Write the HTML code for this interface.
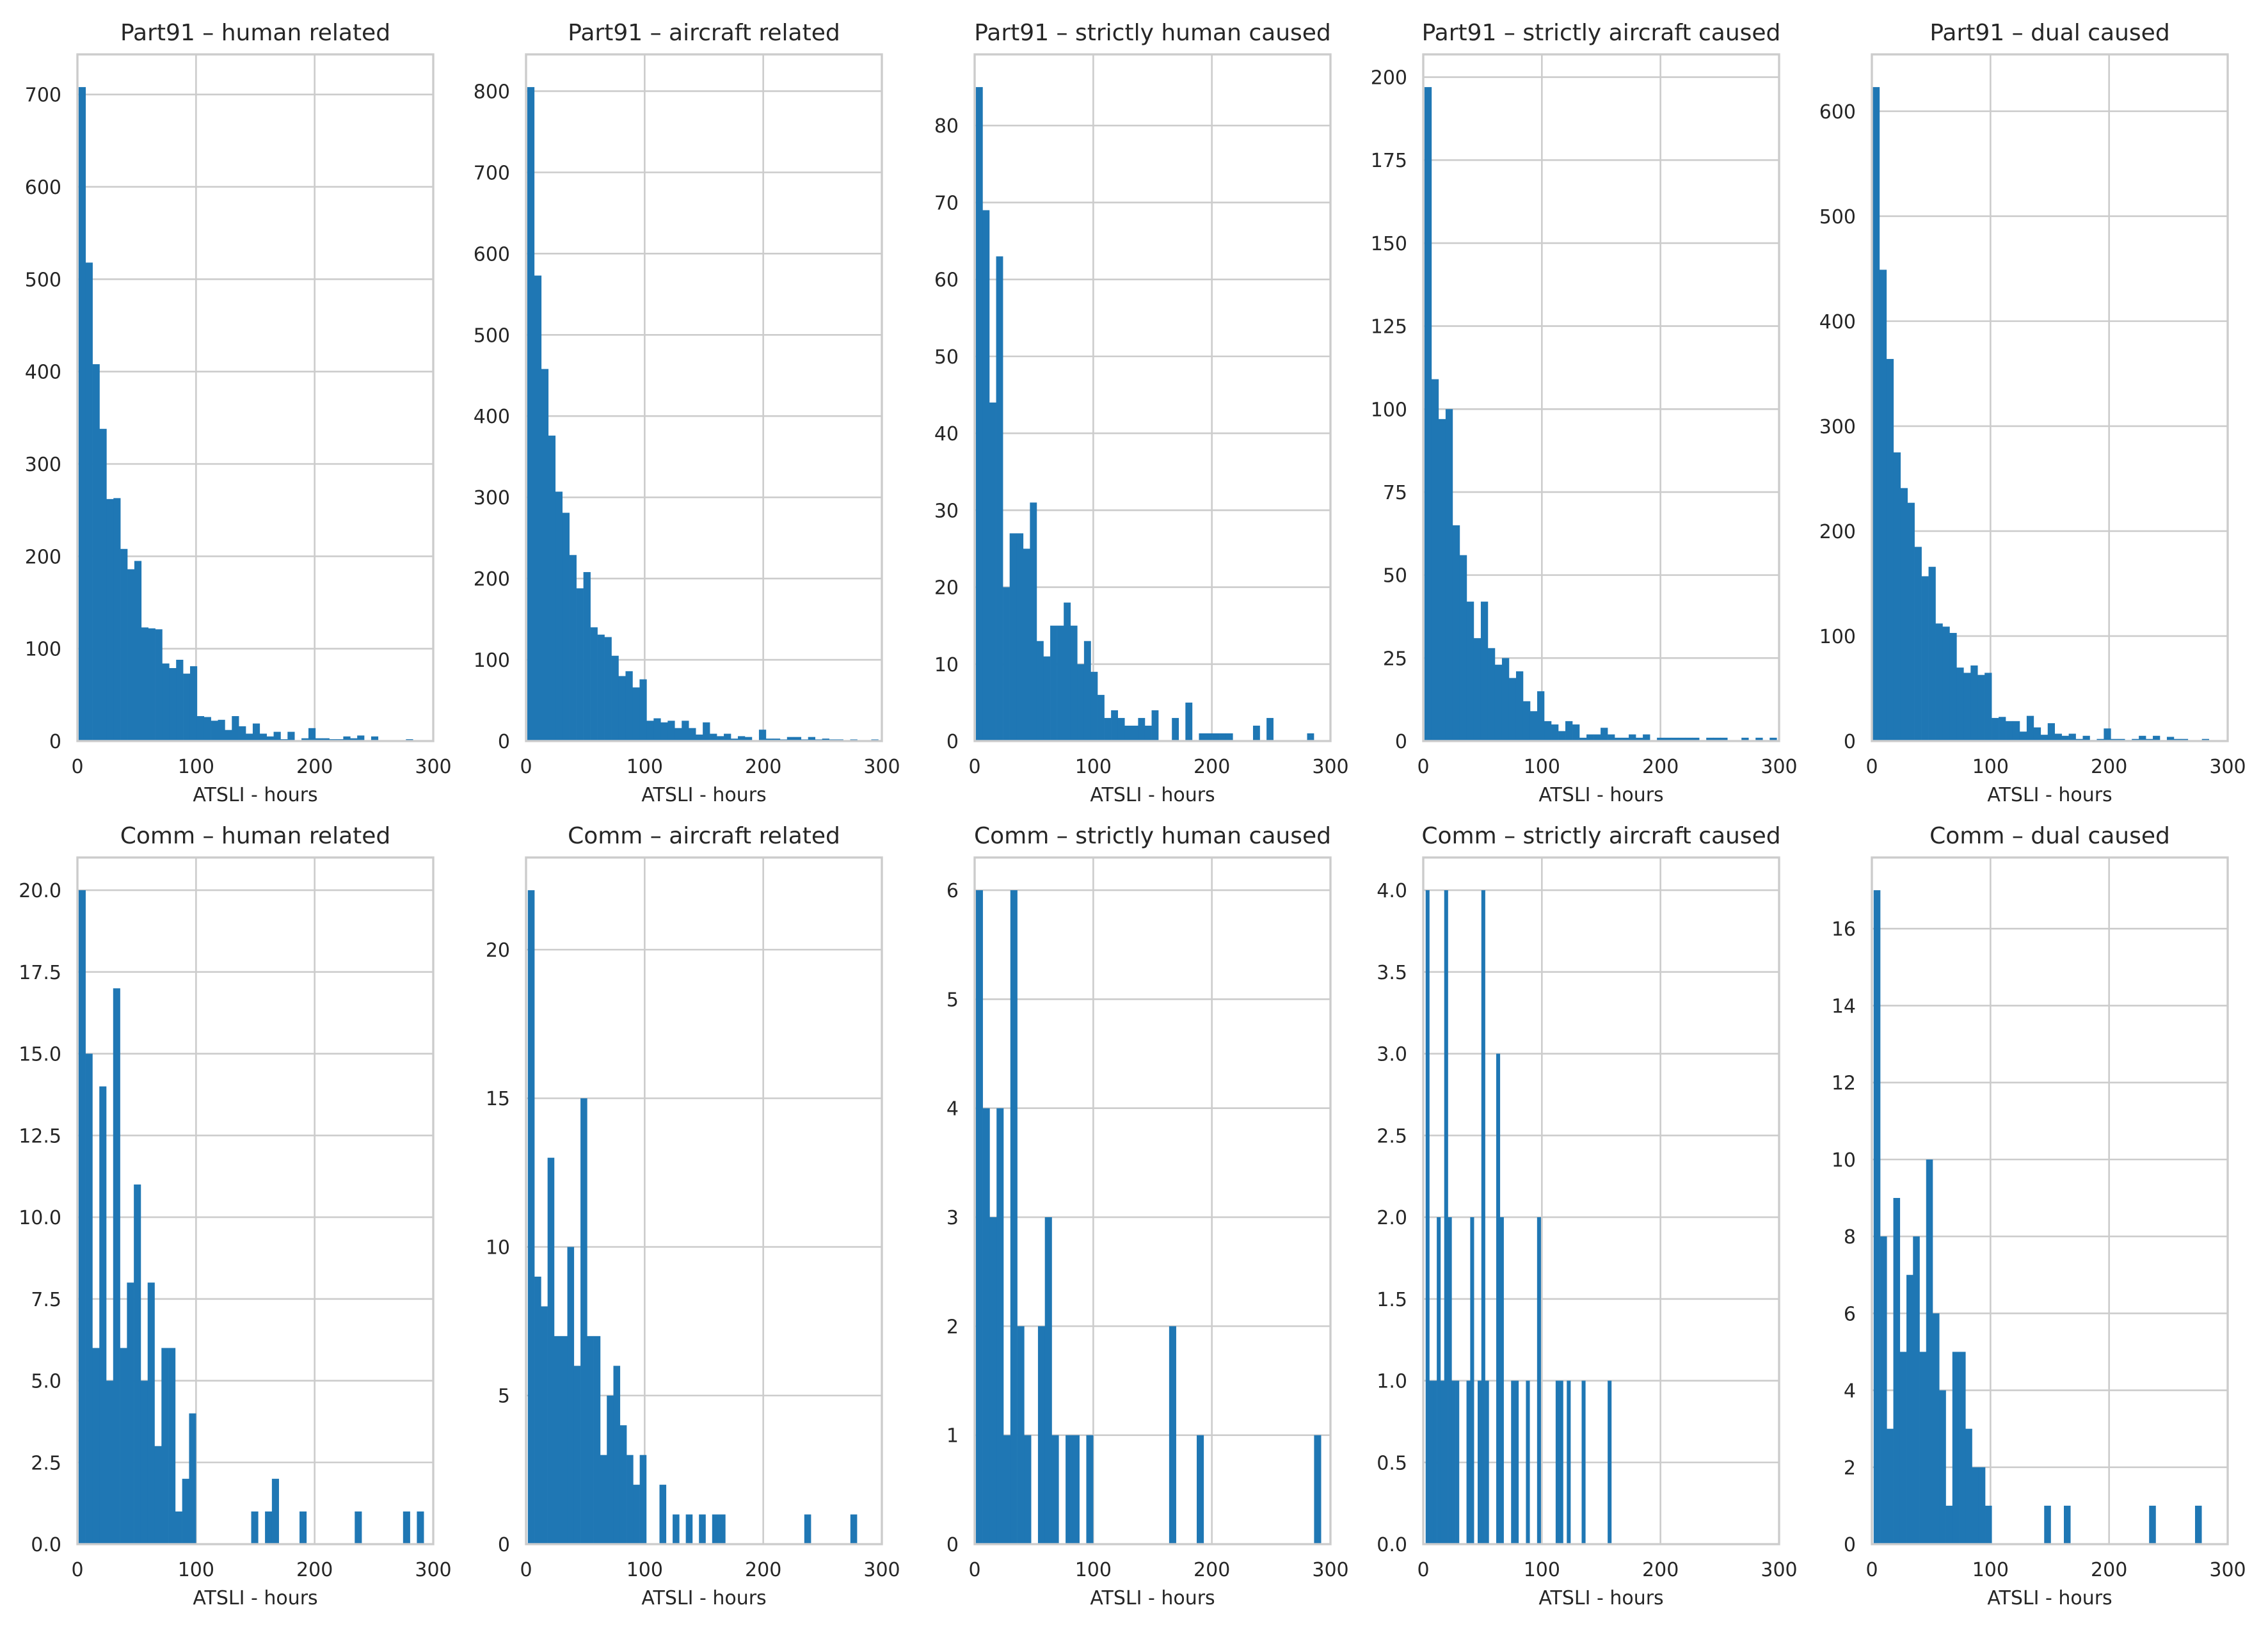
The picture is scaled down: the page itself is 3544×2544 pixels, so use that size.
<!DOCTYPE html>
<html>
<head>
<meta charset="utf-8">
<style>
html,body{margin:0;padding:0;background:#fff;}
svg{display:block;}
text{font-family:"DejaVu Sans","Liberation Sans",sans-serif;fill:#262626;}
</style>
</head>
<body>
<svg id="fig" width="3544" height="2544" viewBox="0 0 3544 2544" xmlns="http://www.w3.org/2000/svg">
<rect x="0" y="0" width="3544" height="2544" fill="#ffffff"/>
</svg>
<script>
// ---- data ----
const panelTitles = ["Part91 – human related","Part91 – aircraft related","Part91 – strictly human caused","Part91 – strictly aircraft caused","Part91 – dual caused",
  "Comm – human related","Comm – aircraft related","Comm – strictly human caused","Comm – strictly aircraft caused","Comm – dual caused"];
const panelNames = ["part91-human-related","part91-aircraft-related","part91-strictly-human","part91-strictly-aircraft","part91-dual",
  "comm-human-related","comm-aircraft-related","comm-strictly-human","comm-strictly-aircraft","comm-dual"];

const p91HumanCounts = [708,518,408,338,262,263,208,186,195,123,122,121,84,79,88,73,81,27,26,22,23,12,27,16,8,19,8,5,10,2,10,1,3,14,3,3,2,2,5,3,6,0,5,1,1,0,0,2,1,0];
const p91AircraftCounts = [805,573,458,376,307,281,229,188,208,140,131,128,105,80,86,66,76,25,28,23,25,16,25,16,8,23,9,6,9,3,6,5,0,14,3,3,2,5,5,2,5,2,3,2,2,0,2,1,0,2];
const p91StrictHumanCounts = [85,69,44,63,20,27,27,25,31,13,11,15,15,18,15,10,13,9,6,3,4,3,2,2,3,2,4,0,0,3,0,5,0,1,1,1,1,1,0,0,0,2,0,3,0,0,0,0,0,1];
const p91StrictAircraftCounts = [197,109,97,100,65,56,42,31,42,28,23,25,19,21,12,9,15,6,5,3,6,5,1,2,2,4,2,1,1,2,1,2,0,1,1,1,1,1,1,0,1,1,1,0,0,1,0,1,0,1];
const p91DualCounts = [623,449,364,275,241,227,185,157,166,112,109,103,70,65,72,63,65,22,23,19,19,9,24,13,6,17,7,5,7,2,5,1,2,12,2,2,1,2,5,2,5,0,4,2,2,0,0,2,0,0];
const commHumanCounts = [20,15,6,14,5,17,6,8,11,5,8,3,6,6,1,2,4,0,0,0,0,0,0,0,0,1,0,1,2,0,0,0,1,0,0,0,0,0,0,0,1,0,0,0,0,0,0,1,0,1];
const commAircraftCounts = [22,9,8,13,7,7,10,6,15,7,7,3,5,6,4,3,2,3,0,0,2,0,1,0,1,0,1,0,1,1,0,0,0,0,0,0,0,0,0,0,0,0,1,0,0,0,0,0,0,1];
const commStrictHumanCounts = [6,4,3,4,1,6,2,1,0,2,3,1,0,1,1,0,1,0,0,0,0,0,0,0,0,0,0,0,2,0,0,0,1,0,0,0,0,0,0,0,0,0,0,0,0,0,0,0,0,1];
const commStrictAircraftCounts = [4,1,1,2,1,4,2,1,1,0,0,1,2,0,1,4,1,0,0,3,2,0,0,1,1,0,0,1,0,0,2,0,0,0,0,1,1,0,1,0,0,0,1,0,0,0,0,0,0,1];
const commDualCounts = [17,8,3,9,5,7,8,5,10,6,4,1,5,5,3,2,2,1,0,0,0,0,0,0,0,0,1,0,0,1,0,0,0,0,0,0,0,0,0,0,0,0,1,0,0,0,0,0,0,1];

// bin range (hours) of each histogram
const binMins = [1.0,1.0,1.0,1.0,0.5,1.0,1.5,1.0,2.0,1.5];
const binMaxs = [294.6,297,286,298,296,292,279,292,158.6,278];

// y tick labels
const yTicks0 = ["0","100","200","300","400","500","600","700"];
const yTicks1 = ["0","100","200","300","400","500","600","700","800"];
const yTicks2 = ["0","10","20","30","40","50","60","70","80"];
const yTicks3 = ["0","25","50","75","100","125","150","175","200"];
const yTicks4 = ["0","100","200","300","400","500","600"];
const yTicks5 = ["0.0","2.5","5.0","7.5","10.0","12.5","15.0","17.5","20.0"];
const yTicks6 = ["0","5","10","15","20"];
const yTicks7 = ["0","1","2","3","4","5","6"];
const yTicks8 = ["0.0","0.5","1.0","1.5","2.0","2.5","3.0","3.5","4.0"];
const yTicks9 = ["0","2","4","6","8","10","12","14","16"];
const xTicks = [0,100,200,300];
const xMin = 0, xMax = 300;

const allCounts = [p91HumanCounts,p91AircraftCounts,p91StrictHumanCounts,p91StrictAircraftCounts,p91DualCounts,
  commHumanCounts,commAircraftCounts,commStrictHumanCounts,commStrictAircraftCounts,commDualCounts];
const allYTicks = [yTicks0,yTicks1,yTicks2,yTicks3,yTicks4,yTicks5,yTicks6,yTicks7,yTicks8,yTicks9];

// ---- drawing ----
const NS = "http://www.w3.org/2000/svg";
const svg = document.getElementById("fig");
function mk(tag, attrs, parent){
  const e = document.createElementNS(NS, tag);
  for (const k in attrs) e.setAttribute(k, attrs[k]);
  (parent||svg).appendChild(e);
  return e;
}
const plotW = 556, plotH = 1073;
const lefts = [121,822,1523,2224,2925];
const tops = [85,1340];

for (let p = 0; p < 10; p++) {
  const col = p % 5, row = Math.floor(p / 5);
  const L = lefts[col], T = tops[row], B = T + plotH, R = L + plotW;
  const counts = allCounts[p];
  const ticks = allYTicks[p];
  const yMax = Math.max(...counts) * 1.05;
  const xs = v => L + (v - xMin) / (xMax - xMin) * plotW;
  const ys = v => B - v / yMax * plotH;

  const g = mk("g", {});
  
  

  ticks.forEach(t => {
    const v = parseFloat(t);
    const ln = mk("line", {x1:L, x2:R, y1:ys(v), y2:ys(v), stroke:"#cccccc", "stroke-width":2.6}, g);
    
    
  });
  xTicks.forEach(t => {
    const ln = mk("line", {x1:xs(t), x2:xs(t), y1:T, y2:B, stroke:"#cccccc", "stroke-width":2.6}, g);
    
    
  });

  const bw = (binMaxs[p] - binMins[p]) / counts.length;
  counts.forEach((c, i) => {
    if (c <= 0) return;
    const x0 = xs(binMins[p] + i * bw), x1 = xs(binMins[p] + (i + 1) * bw);
    const r = mk("rect", {x:x0, y:ys(c), width:x1 - x0 + 0.3, height:B - ys(c), fill:"#1f77b4"}, g);
    
    
  });

  const sp = mk("rect", {x:L, y:T, width:plotW, height:plotH, fill:"none", stroke:"#cccccc", "stroke-width":3.4}, g);
  
  

  ticks.forEach(t => {
    const v = parseFloat(t);
    const tx = mk("text", {x:L - 25, y:ys(v) + 11, "text-anchor":"end", "font-size":30}, g);
    tx.textContent = t;
    
    
  });
  xTicks.forEach(t => {
    const tx = mk("text", {x:xs(t), y:B + 50, "text-anchor":"middle", "font-size":30}, g);
    tx.textContent = String(t);
    
    
  });
  const xl = mk("text", {x:(L + R) / 2, y:B + 94, "text-anchor":"middle", "font-size":30}, g);
  xl.textContent = "ATSLI - hours";
  
  
  const ti = mk("text", {x:(L + R) / 2, y:T - 22, "text-anchor":"middle", "font-size":36}, g);
  ti.textContent = panelTitles[p];
  
  
}
</script>
</body>
</html>
